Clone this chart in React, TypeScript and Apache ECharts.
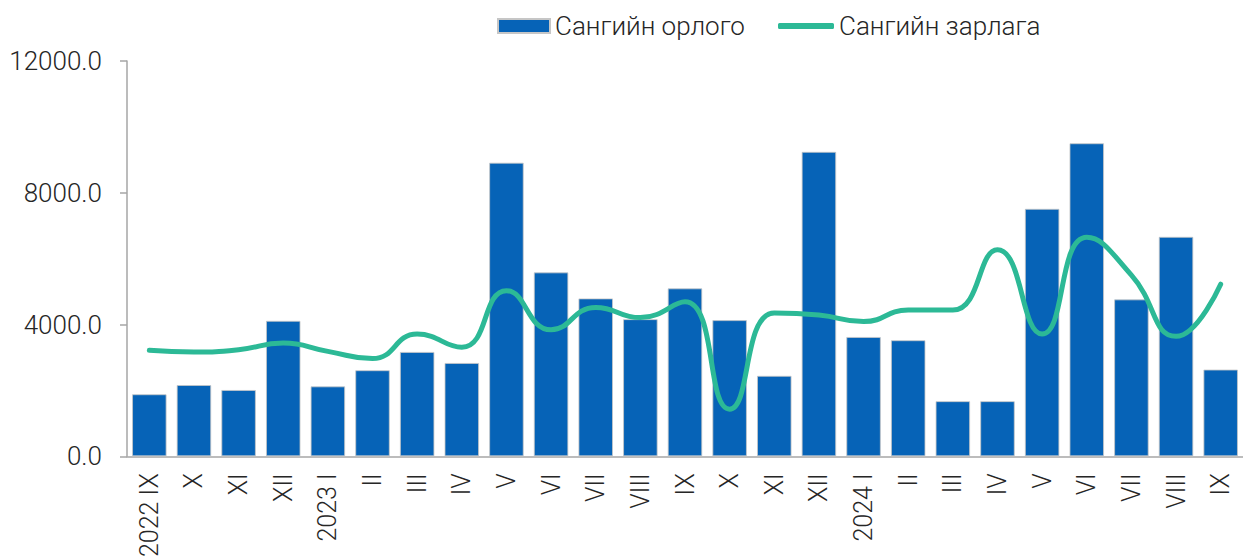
import React, { useEffect, useRef } from "react";
import * as echarts from "echarts";

const categories = [
  "2022 IX", "X", "XI", "XII", "2023 I", "II", "III", "IV", "V", "VI", "VII", "VIII", "IX",
  "X", "XI", "XII", "2024 I", "II", "III", "IV", "V", "VI", "VII", "VIII", "IX",
];
const incomeValues = [
  1880, 2160, 2010, 4110, 2120, 2610, 3165, 2830, 8910, 5580, 4790, 4160, 5095,
  4130, 2440, 9240, 3620, 3520, 1670, 1670, 7510, 9500, 4760, 6660, 2630,
];
const expenseValues = [
  3215, 3165, 3235, 3435, 3185, 2965, 3710, 3310, 5025, 3840, 4520, 4210, 4690,
  1430, 4350, 4290, 4090, 4440, 4440, 6270, 3710, 6650, 5500, 3640, 5225,
];
const seriesNames = ["Сангийн орлого", "Сангийн зарлага"];
const yTicks = { min: 0, max: 12000, interval: 4000 };

export default function App() {
  const ref = useRef<HTMLDivElement>(null);
  useEffect(() => {
    if (!ref.current) return;
    const chart = echarts.init(ref.current, null, { renderer: "svg" });
    const font = "Roboto, 'Noto Sans', sans-serif";
    const legendText = { fontSize: 26, color: "#262626", fontFamily: font, fontWeight: 300 };
    chart.setOption({
      animation: false,
      textStyle: { fontFamily: font },
      legend: [
        {
          left: 492,
          top: 8,
          itemWidth: 52,
          itemHeight: 14,
          textStyle: legendText,
          data: [{ name: seriesNames[0], icon: "rect" }],
        },
        {
          left: 773,
          top: 8,
          itemWidth: 56,
          itemHeight: 6,
          textStyle: legendText,
          data: [{ name: seriesNames[1], icon: "roundRect" }],
        },
      ],
      grid: { left: 127, top: 61, bottom: 101, right: -10, containLabel: false },
      xAxis: {
        type: "category",
        data: categories,
        axisLine: { lineStyle: { color: "#a6a6a6", width: 1.5 } },
        axisTick: { show: false },
        axisLabel: {
          rotate: 90,
          interval: 0,
          margin: 17,
          fontSize: 25,
          color: "#262626",
          fontFamily: font,
          fontWeight: 300,
        },
      },
      yAxis: {
        type: "value",
        min: yTicks.min,
        max: yTicks.max,
        interval: yTicks.interval,
        splitLine: { show: false },
        axisLine: { show: true, lineStyle: { color: "#a6a6a6", width: 1.5 } },
        axisTick: { show: true, length: 7, lineStyle: { color: "#a6a6a6", width: 1.5 } },
        axisLabel: {
          margin: 25,
          fontSize: 26,
          color: "#262626",
          fontFamily: font,
          fontWeight: 300,
          formatter: (v: number) => v.toFixed(1),
        },
      },
      series: [
        {
          name: seriesNames[0],
          type: "bar",
          data: incomeValues,
          barWidth: "77%",
          itemStyle: { color: "#0663B7", borderColor: "#c6c6c6", borderWidth: 0.8 },
        },
        {
          name: seriesNames[1],
          type: "line",
          data: expenseValues,
          smooth: 0.5,
          symbol: "none",
          lineStyle: { color: "#2CB996", width: 5, cap: "round" },
          itemStyle: { color: "#2CB996" },
        },
      ],
    });
    return () => chart.dispose();
  }, []);
  return (
    <div
      ref={ref}
      style={{ position: "fixed", left: 0, top: 0, width: 1243, height: 560, background: "#fff" }}
    />
  );
}
